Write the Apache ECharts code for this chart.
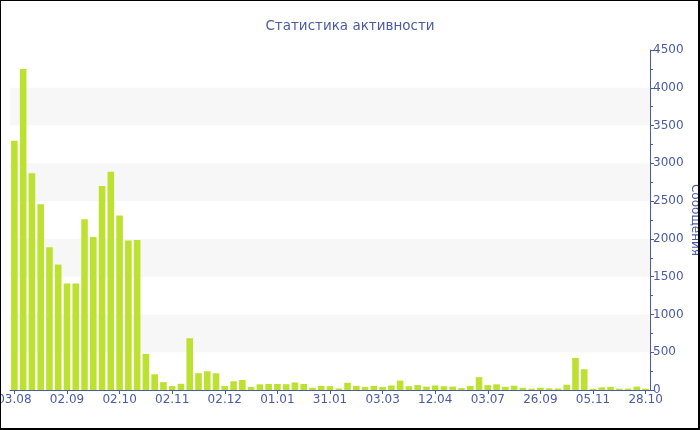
<!DOCTYPE html>
<html>
<head>
<meta charset="utf-8">
<script src="https://cdn.jsdelivr.net/npm/echarts@6/dist/echarts.min.js"></script>
<style>
html,body{margin:0;padding:0;background:#fff;}
#chart{position:absolute;left:0;top:0;width:700px;height:430px;}
#frame{position:absolute;left:0;top:0;width:700px;height:430px;box-sizing:border-box;border-style:solid;border-color:#000;border-width:1px 2px 2px 1px;pointer-events:none;}
</style>
</head>
<body>
<div id="chart"></div>
<div id="frame"></div>
<script>
var titleText = 'Статистика активности';
var yAxisName = 'Сообщения';
var categories = [
  '03.08','08.08','13.08','18.08','23.08','28.08',
  '02.09','07.09','12.09','17.09','22.09','27.09',
  '02.10','07.10','12.10','17.10','22.10','27.10',
  '02.11','07.11','12.11','17.11','22.11','27.11',
  '02.12','07.12','12.12','17.12','22.12','27.12',
  '01.01','06.01','11.01','16.01','21.01','26.01',
  '31.01','05.02','10.02','15.02','20.02','25.02',
  '03.03','10.03','17.03','24.03','31.03','07.04',
  '12.04','17.04','01.05','15.05','29.05','12.06',
  '03.07','17.07','31.07','14.08','28.08','11.09',
  '26.09','03.10','10.10','17.10','24.10','31.10',
  '05.11','12.11','10.12','15.01','20.03','15.06',
  '28.10'
];
var messages = [
  3300, 4250, 2870, 2460, 1890, 1660,
  1410, 1410, 2260, 2025, 2700, 2890,
  2310, 1980, 1985, 478, 208, 104,
  52, 82, 685, 222, 248, 221,
  52, 115, 132, 40, 75, 80,
  80, 76, 100, 80, 30, 55,
  50, 20, 95, 55, 40, 55,
  40, 60, 125, 50, 65, 45,
  60, 50, 45, 25, 55, 170,
  65, 75, 42, 57, 30, 17,
  30, 22, 20, 70, 425, 275,
  15, 35, 40, 18, 18, 45,
  18
];
var yTicks = { min: 0, max: 4500, interval: 500 };

var axisColor = '#4a5ba6';
var chart = echarts.init(document.getElementById('chart'), null, { renderer: 'canvas' });
chart.setOption({
  animation: false,
  backgroundColor: '#fff',
  title: {
    text: titleText,
    left: 'center',
    top: 14,
    textStyle: { color: axisColor, fontSize: 13.5, fontWeight: 'normal', fontFamily: 'DejaVu Sans' }
  },
  grid: { left: 10, right: 50, top: 50, bottom: 40, containLabel: false, outerBoundsMode: 'none' },
  xAxis: {
    type: 'category',
    data: categories,
    boundaryGap: true,
    axisLine: { show: true, lineStyle: { color: axisColor, width: 1 } },
    axisTick: { show: true, alignWithLabel: true, interval: 5, length: 4, lineStyle: { color: axisColor } },
    axisLabel: { interval: 5, margin: 4, color: axisColor, fontSize: 12, fontFamily: 'DejaVu Sans' },
    splitLine: { show: false }
  },
  yAxis: {
    type: 'value',
    position: 'right',
    min: yTicks.min,
    max: yTicks.max,
    interval: yTicks.interval,
    name: yAxisName,
    nameLocation: 'middle',
    nameRotate: -90,
    nameGap: 39,
    nameMoveOverlap: false,
    nameTextStyle: { color: axisColor, fontSize: 12, fontFamily: 'DejaVu Sans' },
    axisLine: { show: true, lineStyle: { color: axisColor, width: 1 } },
    axisTick: { show: true, length: 4, lineStyle: { color: axisColor } },
    minorTick: { show: true, splitNumber: 2, length: 3, lineStyle: { color: axisColor } },
    axisLabel: {
      margin: 3, color: axisColor, fontSize: 12, fontFamily: 'DejaVu Sans',
      formatter: function (v) { return String(v); }
    },
    splitLine: { show: false },
    splitArea: { show: true, areaStyle: { color: ['rgba(255,255,255,0)', '#f7f7f7'] } }
  },
  series: [{
    type: 'bar',
    data: messages,
    barCategoryGap: '25%',
    itemStyle: { color: '#bce130' }
  }]
});
</script>
</body>
</html>
